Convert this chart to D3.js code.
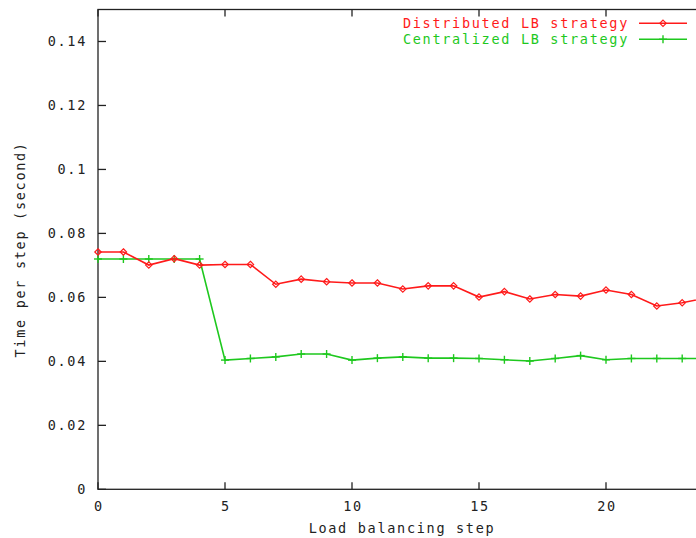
<!DOCTYPE html>
<html>
<head>
<meta charset="utf-8">
<script src="https://cdn.jsdelivr.net/npm/d3@7"></script>
<style>
  html, body { margin: 0; padding: 0; background: #fff; }
  svg { display: block; }
  text { font-family: "DejaVu Sans Mono", monospace; font-size: 13.5px; letter-spacing: 1.7px; fill: #222; }
</style>
</head>
<body>
<svg id="chart" width="696" height="538"></svg>
<script>
// Load balancing steps (x) and time per step (seconds) for each strategy
const steps = d3.range(0, 25);
const distributed = [0.0742, 0.0742, 0.0701, 0.0721, 0.0701, 0.0703, 0.0703, 0.0641, 0.0657, 0.0649,
                     0.0645, 0.0645, 0.0626, 0.0636, 0.0636, 0.0601, 0.0618, 0.0595, 0.0609, 0.0604,
                     0.0623, 0.0609, 0.0573, 0.0583, 0.0599];
const centralized = [0.0720, 0.0720, 0.0720, 0.0720, 0.0720, 0.0404, 0.0409, 0.0414, 0.0423, 0.0423,
                     0.0404, 0.0410, 0.0414, 0.0410, 0.0410, 0.0409, 0.0405, 0.0401, 0.0409, 0.0418,
                     0.0405, 0.0409, 0.0409, 0.0409, 0.0409];
const xTicks = [0, 5, 10, 15, 20];
const yTicks = [0, 0.02, 0.04, 0.06, 0.08, 0.1, 0.12, 0.14];
const seriesNames = ["Distributed LB strategy", "Centralized LB strategy"];
const seriesColors = ["#ff1a1a", "#1ec81e"];

const svg = d3.select("#chart");
const m = { left: 98, top: 9.5, right: 707.6, bottom: 489.3 };

const x = d3.scaleLinear().domain([0, 24]).range([m.left, m.right]);
const y = d3.scaleLinear().domain([0, 0.15]).range([m.bottom, m.top]);

const axisColor = "#222";

// Plot frame (left, bottom, top; right side lies beyond the canvas)
svg.append("rect")
  .attr("x", m.left).attr("y", m.top)
  .attr("width", m.right - m.left).attr("height", m.bottom - m.top)
  .attr("fill", "none").attr("stroke", axisColor).attr("stroke-width", 1.3);

// Y ticks and labels
yTicks.forEach(v => {
  svg.append("line")
    .attr("x1", m.left).attr("x2", m.left + 8)
    .attr("y1", y(v)).attr("y2", y(v))
    .attr("stroke", axisColor).attr("stroke-width", 1.3);
  svg.append("line")
    .attr("x1", m.right).attr("x2", m.right - 8)
    .attr("y1", y(v)).attr("y2", y(v))
    .attr("stroke", axisColor).attr("stroke-width", 1.3);
  svg.append("text")
    .attr("x", 87).attr("y", y(v))
    .attr("dy", "0.36em")
    .attr("text-anchor", "end")
    .text(v === 0 ? "0" : d3.format("")(v));
});

// X ticks (bottom and mirrored on top) and labels
xTicks.forEach(v => {
  svg.append("line")
    .attr("x1", x(v)).attr("x2", x(v))
    .attr("y1", m.bottom).attr("y2", m.bottom - 7)
    .attr("stroke", axisColor).attr("stroke-width", 1.3);
  svg.append("line")
    .attr("x1", x(v)).attr("x2", x(v))
    .attr("y1", m.top).attr("y2", m.top + 7)
    .attr("stroke", axisColor).attr("stroke-width", 1.3);
  svg.append("text")
    .attr("x", x(v) + 1).attr("y", 506)
    .attr("dy", "0.36em")
    .attr("text-anchor", "middle")
    .text(v);
});

// Axis titles
svg.append("text")
  .attr("x", 402).attr("y", 528)
  .attr("dy", "0.36em")
  .attr("text-anchor", "middle")
  .text("Load balancing step");

svg.append("text")
  .attr("transform", `translate(20,${(m.top + m.bottom) / 2}) rotate(-90)`)
  .attr("dy", "0.36em")
  .attr("text-anchor", "middle")
  .text("Time per step (second)");

// Series
const plot = svg.append("g");
const line = d3.line().x((d, i) => x(steps[i])).y(d => y(d));

const diamond = (cx, cy, r) => `M${cx},${cy - r}L${cx + r},${cy}L${cx},${cy + r}L${cx - r},${cy}Z`;

function drawSeries(values, color, marker) {
  plot.append("path")
    .datum(values)
    .attr("fill", "none")
    .attr("stroke", color)
    .attr("stroke-width", 1.6)
    .attr("d", line);
  values.forEach((v, i) => marker(x(steps[i]), y(v), color));
}

const diamondMarker = (cx, cy, color) => {
  plot.append("path")
    .attr("d", diamond(cx, cy, 3.2))
    .attr("fill", "none")
    .attr("stroke", color)
    .attr("stroke-width", 1.2);
};
const plusMarker = (cx, cy, color) => {
  plot.append("line")
    .attr("x1", cx).attr("x2", cx).attr("y1", cy - 4).attr("y2", cy + 4)
    .attr("stroke", color).attr("stroke-width", 1.4);
  plot.append("line")
    .attr("x1", cx - 4).attr("x2", cx + 4).attr("y1", cy).attr("y2", cy)
    .attr("stroke", color).attr("stroke-width", 1.4);
};

drawSeries(centralized, seriesColors[1], plusMarker);
drawSeries(distributed, seriesColors[0], diamondMarker);

// Legend (top right, inside the frame)
const legendRows = [
  { name: seriesNames[0], color: seriesColors[0], marker: diamondMarker, yPos: 23.3 },
  { name: seriesNames[1], color: seriesColors[1], marker: plusMarker, yPos: 39.3 }
];
legendRows.forEach(r => {
  svg.append("text")
    .attr("x", 629).attr("y", r.yPos)
    .attr("dy", "0.36em")
    .attr("text-anchor", "end")
    .style("fill", r.color)
    .text(r.name);
  svg.append("line")
    .attr("x1", 639).attr("x2", 687)
    .attr("y1", r.yPos).attr("y2", r.yPos)
    .attr("stroke", r.color).attr("stroke-width", 1.6);
  r.marker(663, r.yPos, r.color);
});
</script>
</body>
</html>
